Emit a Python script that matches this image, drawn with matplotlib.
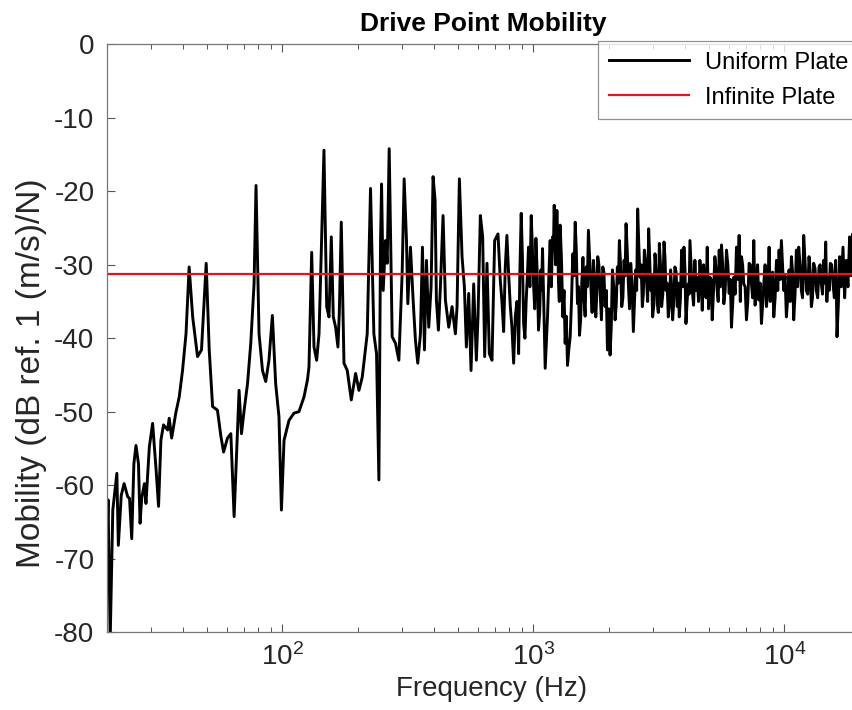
import matplotlib
matplotlib.use("Agg")
import matplotlib.pyplot as plt
from matplotlib.ticker import LogLocator, NullFormatter

plt.rcParams["font.family"] = ["Liberation Sans", "DejaVu Sans"]
plt.rcParams["axes.unicode_minus"] = False

# ── Data (frequency in Hz, mobility in dB) ───────────────────────────────────
freq_low = [20.0, 20.2, 20.6, 21.1, 21.9, 22.2, 22.8, 23.4, 24.2, 24.6,
            25.1, 25.6, 26.1, 26.7, 27.1, 27.5, 28.2, 28.6, 29.5, 30.4,
            31.4, 32.1, 32.8, 33.6, 34.9, 35.4, 36.2, 37.6, 38.8, 40.0,
            41.3, 42.5, 43.9, 45.9, 47.6, 49.7, 51.1, 52.7, 55.1, 56.9,
            58.3, 60.4, 62.3, 64.2, 65.8, 67.2, 68.7, 70.4, 72.6, 74.8,
            77.1, 78.5, 80.7, 83.3, 85.8, 88.4, 91.2, 94.0, 96.9, 99.1,
            101.5, 106.2, 111.2, 116.4, 121.9, 125.8]
mob_low = [-67.9, -62.0, -81.0, -63.4, -58.4, -68.2, -61.4, -59.8, -61.6, -61.8,
           -67.3, -57.1, -54.6, -57.1, -65.2, -61.8, -59.8, -62.5, -54.8, -51.6,
           -58.0, -62.9, -53.9, -51.8, -52.5, -50.9, -53.6, -50.2, -48.0, -44.4,
           -39.4, -30.3, -37.1, -42.5, -41.6, -29.8, -41.6, -49.3, -49.8, -53.4,
           -55.5, -53.6, -53.0, -64.3, -55.2, -47.1, -53.0, -49.8, -46.2, -40.7,
           -32.6, -19.2, -39.4, -44.4, -45.9, -43.0, -36.9, -46.2, -50.7, -63.4,
           -53.9, -51.2, -50.2, -50.0, -48.0, -45.7]

freq_mid = [127.6, 130.8, 133.6, 136.9, 139.9, 142.9, 146.4, 150.1, 153.3, 156.6,
            159.5, 162.9, 166.4, 168.5, 171.6, 175.9, 181.3, 188.1, 195.7, 201.8,
            208.0, 217.7, 224.4, 231.4, 237.1, 242.3, 246.0, 248.3, 252.1, 257.5,
            261.5, 266.3, 273.7, 282.2, 291.0, 299.9, 305.5, 312.1, 315.9, 323.7,
            331.7, 338.8, 346.1, 354.7, 361.3, 368.0, 374.8, 382.8, 391.1, 398.3,
            405.7, 410.6, 418.3, 426.0, 436.5, 446.0, 459.8, 474.1, 488.8, 496.3,
            507.0, 519.6, 530.8, 540.6, 552.3, 564.2, 578.1, 592.4, 601.5, 614.5,
            627.8, 639.4, 653.1, 667.3, 683.8, 700.7, 722.4]
mob_mid = [-43.9, -28.3, -41.2, -43.0, -39.4, -28.0, -14.4, -35.7, -37.1, -26.2,
           -37.1, -38.5, -41.2, -36.6, -24.2, -43.4, -44.4, -48.4, -44.8, -47.1,
           -45.3, -39.4, -19.6, -39.4, -42.1, -59.3, -26.7, -19.0, -33.5, -26.7,
           -29.8, -14.2, -39.8, -40.7, -43.0, -31.2, -18.3, -26.7, -35.3, -27.6,
           -34.8, -40.3, -43.4, -39.4, -27.6, -41.6, -29.4, -38.5, -33.0, -18.0,
           -21.2, -34.8, -38.9, -33.0, -23.3, -34.8, -38.5, -35.7, -39.4, -35.7,
           -18.3, -28.9, -33.0, -41.2, -33.9, -44.4, -32.6, -43.0, -37.1, -23.3,
           -26.2, -42.5, -29.8, -42.1, -43.0, -26.7, -25.8]

# peaks and troughs of the dense band above ~700 Hz
freq_high = [738, 761, 784, 809, 834, 860, 873, 894, 914, 936,
             956, 980, 1001, 1023, 1048, 1071, 1087, 1114, 1138, 1166,
             1192, 1210, 1240, 1259, 1278, 1310, 1338, 1367, 1401, 1435,
             1467, 1498, 1526, 1558, 1592, 1622, 1656, 1692, 1734, 1772,
             1804, 1843, 1889, 1930, 1972, 2020, 2064, 2115, 2160, 2200,
             2248, 2297, 2339, 2389, 2441, 2501, 2555, 2602, 2659, 2716,
             2767, 2826, 2878, 2931, 2985, 3050, 3116, 3174, 3242, 3313,
             3373, 3446, 3520, 3586, 3663, 3742, 3811, 3894, 3978, 4052,
             4139, 4203, 4293, 4399, 4494, 4605, 4705, 4821, 4925, 5047,
             5156, 5283, 5397, 5497, 5614, 5736, 5877, 6023, 6152, 6285,
             6441, 6600, 6743, 6888, 7059, 7233, 7390, 7549, 7736, 7903,
             8099, 8274, 8479, 8688, 8877, 9069, 9293, 9522, 9725, 9936,
             10180, 10433, 10659, 10889, 11158, 11400, 11680, 11933, 12228, 12531,
             12802, 13079, 13402, 13733, 14030, 14334, 14600, 14915, 15238, 15615,
             15999, 16196, 16596, 17109, 17640, 18183, 18688, 19100, 19500, 20000]
mob_high = [-32.1, -39.1, -26.0, -35.7, -43.4, -35.0, -42.1, -23.0, -38.0, -34.8,
            -27.6, -23.3, -32.6, -26.4, -38.9, -30.7, -27.8, -44.1, -37.1, -26.7,
            -26.2, -21.9, -22.6, -32.6, -24.6, -37.1, -40.7, -43.7, -39.8, -28.5,
            -24.2, -35.3, -39.6, -32.6, -34.8, -30.3, -25.3, -32.6, -29.4, -37.1,
            -28.9, -33.5, -30.3, -35.7, -41.6, -42.3, -30.7, -37.5, -30.3, -26.7,
            -35.7, -29.4, -24.4, -32.6, -29.8, -39.1, -30.7, -22.4, -31.7, -35.7,
            -28.0, -32.6, -25.1, -33.5, -37.1, -28.5, -35.3, -27.1, -35.7, -26.9,
            -33.5, -37.1, -30.7, -37.5, -30.3, -35.7, -37.1, -28.0, -27.6, -38.0,
            -32.6, -26.7, -33.5, -29.4, -31.7, -29.4, -36.2, -33.0, -27.6, -31.7,
            -37.5, -28.9, -33.5, -28.0, -27.3, -35.3, -28.0, -33.9, -38.5, -31.7,
            -27.6, -26.0, -28.9, -32.6, -37.5, -29.8, -32.6, -26.7, -31.7, -34.8,
            -38.0, -32.6, -35.7, -27.6, -31.7, -37.1, -29.4, -28.0, -26.7, -33.5,
            -37.1, -30.7, -28.9, -37.5, -28.0, -27.6, -33.5, -26.0, -33.5, -28.9,
            -35.7, -29.8, -33.5, -30.3, -32.6, -29.4, -26.9, -31.7, -29.8, -32.6,
            -29.4, -39.8, -28.9, -27.6, -29.4, -26.2, -25.8, -33.0, -28.5, -31.0]

# in-between samples of the same band (fills it in like the reference)
freq_fill = [749, 772, 796, 821, 847, 866, 883, 904, 925, 946,
             968, 990, 1012, 1035, 1059, 1079, 1100, 1126, 1152, 1179,
             1201, 1225, 1249, 1268, 1294, 1324, 1352, 1384, 1418, 1451,
             1482, 1512, 1542, 1575, 1607, 1639, 1674, 1713, 1753, 1788,
             1823, 1866, 1909, 1951, 1996, 2042, 2089, 2137, 2180, 2224,
             2272, 2318, 2364, 2415, 2471, 2528, 2578, 2630, 2687, 2741,
             2796, 2852, 2904, 2958, 3017, 3083, 3145, 3208, 3277, 3343,
             3409, 3483, 3553, 3624, 3702, 3776, 3852, 3936, 4015, 4095,
             4171, 4248, 4346, 4446, 4549, 4655, 4763, 4873, 4986, 5101,
             5219, 5340, 5447, 5555, 5675, 5806, 5950, 6087, 6218, 6363,
             6520, 6671, 6815, 6973, 7146, 7311, 7469, 7642, 7819, 8001,
             8186, 8376, 8583, 8782, 8973, 9181, 9407, 9623, 9830, 10057,
             10306, 10546, 10774, 11023, 11279, 11540, 11806, 12080, 12379, 12666,
             12940, 13240, 13567, 13881, 14182, 14467, 14757, 15076, 15426, 15807,
             16097, 16395, 16851, 17373, 17910, 18434, 18893, 19299, 19748]
mob_fill = [-35.0, -30.5, -31.0, -38.5, -37.0, -36.5, -31.0, -29.0, -40.0, -31.5,
            -33.0, -27.5, -36.0, -31.0, -36.5, -33.5, -36.0, -40.5, -31.5, -33.0,
            -28.0, -30.0, -26.5, -35.0, -29.5, -33.5, -37.0, -41.5, -35.0, -31.5,
            -28.0, -33.0, -37.5, -29.0, -37.0, -33.0, -29.0, -36.5, -32.0, -34.0,
            -30.0, -37.5, -31.0, -33.5, -36.0, -38.5, -33.0, -35.5, -32.5, -30.0,
            -34.5, -31.5, -28.0, -36.0, -32.5, -35.0, -33.5, -27.5, -30.0, -34.0,
            -29.5, -35.0, -29.0, -31.5, -35.5, -31.0, -36.5, -30.0, -34.0, -29.0,
            -32.5, -35.5, -33.0, -35.0, -31.0, -32.5, -34.5, -33.0, -30.5, -35.0,
            -34.0, -30.0, -35.5, -33.5, -35.0, -31.5, -30.0, -34.5, -36.0, -32.0,
            -33.5, -30.5, -35.0, -33.0, -30.0, -33.5, -30.0, -32.0, -35.5, -34.0,
            -32.0, -35.0, -30.0, -33.0, -35.0, -30.0, -34.5, -35.5, -30.0, -32.5,
            -35.5, -30.0, -33.5, -35.0, -31.0, -34.5, -33.5, -32.0, -30.0, -31.5,
            -34.5, -35.0, -31.0, -34.0, -33.0, -30.0, -34.5, -29.5, -34.0, -31.0,
            -34.5, -30.5, -34.5, -30.0, -34.0, -32.5, -35.0, -33.5, -30.0, -34.5,
            -33.0, -35.5, -33.0, -34.5, -33.0, -31.5, -29.5, -34.0, -29.0]

infinite_plate_db = -31.3

# merge the pieces into one frequency-ordered curve
pairs = sorted(zip(freq_low + freq_mid + freq_high + freq_fill,
                   mob_low + mob_mid + mob_high + mob_fill))
freq = [p[0] for p in pairs]
mobility = [p[1] for p in pairs]

# ── Plot ─────────────────────────────────────────────────────────────────────
fig = plt.figure(figsize=(8.53, 7.10), dpi=100)
ax = fig.add_axes([0.1254, 0.1099, 0.8828, 0.8275])

ax.semilogx(freq, mobility, color="black", lw=2.1, label="Uniform Plate")
ax.axhline(infinite_plate_db, color="#e0161b", lw=1.6, label="Infinite Plate")

ax.set_xlim(20, 20000)
ax.set_ylim(-80, 0)
ax.set_yticks(range(-80, 1, 10))
ax.xaxis.set_major_locator(LogLocator(base=10, numticks=10))
ax.xaxis.set_minor_locator(LogLocator(base=10, subs=range(2, 10), numticks=20))
ax.xaxis.set_minor_formatter(NullFormatter())

ax.tick_params(which="both", direction="in", top=True, right=True,
               colors="#555555", labelcolor="#262626", labelsize=20)
ax.tick_params(which="major", length=6, width=0.8)
ax.tick_params(which="minor", length=3.5, width=0.7)
ax.tick_params(axis="y", pad=9)
ax.tick_params(axis="x", pad=8)
for side in ax.spines.values():
    side.set_color("#777777")
    side.set_linewidth(0.9)

ax.set_title("Drive Point Mobility", fontsize=19, fontweight="bold", pad=10)
ax.set_xlabel("Frequency (Hz)", fontsize=20, color="#262626", labelpad=2)
ax.xaxis.set_label_coords(0.511, -0.075)
ax.set_ylabel("Mobility (dB ref. 1 (m/s)/N)", fontsize=24, color="#262626")
ax.yaxis.set_label_coords(-0.08, 0.44)

leg = ax.legend(loc="upper left", bbox_to_anchor=(598 / 853, 1 - 41 / 710),
                bbox_transform=fig.transFigure, fontsize=17, frameon=True,
                fancybox=False, borderaxespad=0, handlelength=3.4,
                handletextpad=0.7, borderpad=0.45, labelspacing=0.55)
leg.get_frame().set_edgecolor("#777777")
leg.get_frame().set_linewidth(0.9)

fig.savefig("out.png", dpi=100)
